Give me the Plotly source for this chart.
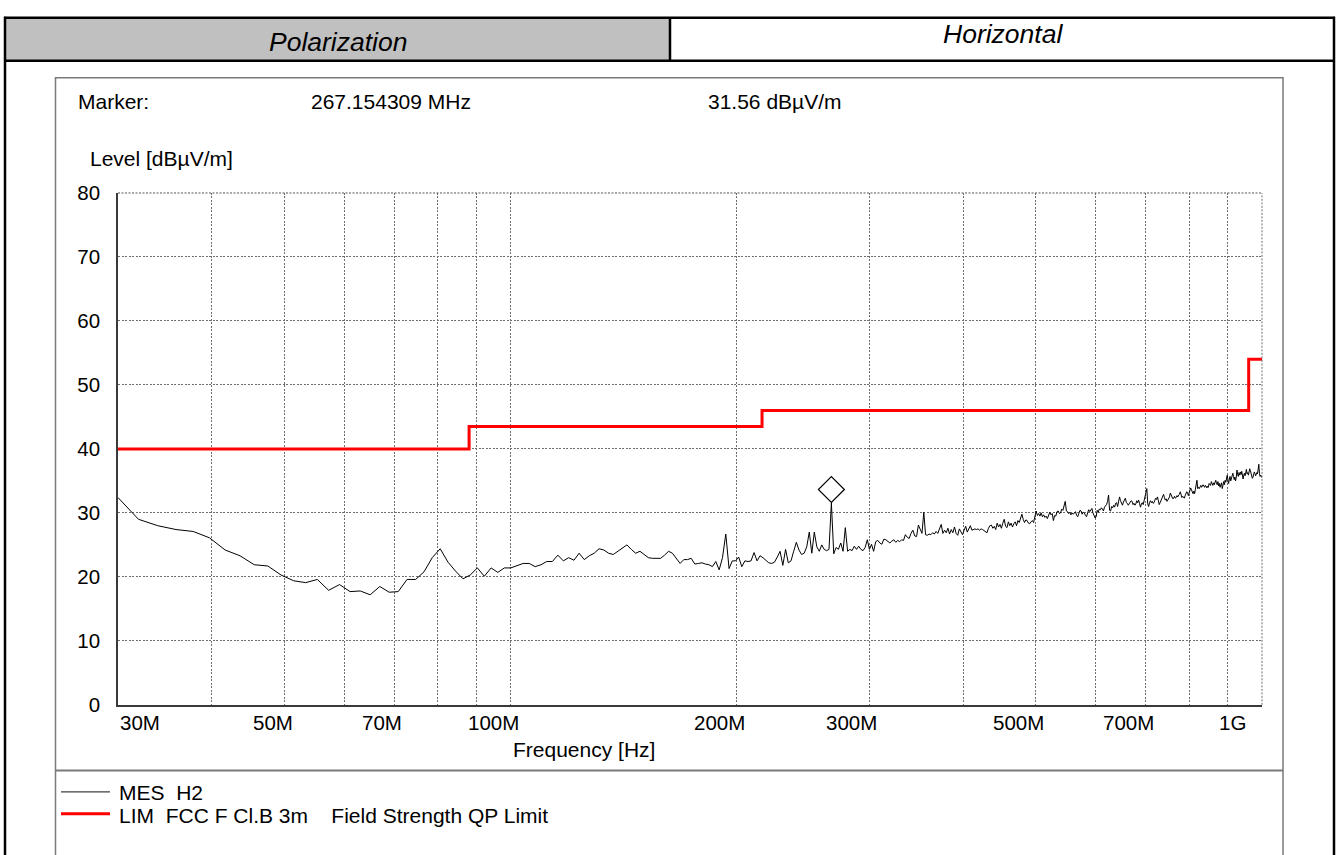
import numpy as np
import plotly.graph_objects as go

W, H = 1341, 855

# ---------------- data ----------------
f_start_mhz = 30.0
f_stop_mhz = 1000.0
n_points = 500

mes_level = [
    32.4, 29.0, 28.0, 27.4, 27.1, 26.1, 24.2, 23.3, 21.9, 21.7,
    20.3, 19.4, 19.1, 19.6, 17.9, 18.8, 17.7, 17.8, 17.2, 18.5,
    17.6, 17.7, 19.6, 19.6, 20.8, 23.0, 24.4, 22.3, 20.9, 19.7,
    20.3, 21.4, 20.1, 21.4, 20.7, 21.4, 21.4, 21.8, 22.1, 22.1,
    21.6, 21.9, 22.4, 22.4, 23.4, 22.5, 23.0, 22.6, 23.7, 22.7,
    23.3, 23.7, 24.4, 24.2, 23.7, 23.5, 24.0, 24.4, 25.0, 24.3,
    23.7, 24.0, 23.5, 23.0, 22.9, 22.9, 22.9, 23.4, 24.0, 23.7,
    22.9, 22.1, 22.7, 22.7, 22.9, 22.0, 22.1, 22.2, 22.0, 21.9,
    21.6, 22.4, 21.1, 23.0, 26.7, 21.3, 22.5, 22.5, 23.1, 21.6,
    22.5, 22.4, 22.5, 23.8, 22.5, 23.3, 23.0, 22.6, 22.2, 22.1,
    22.3, 23.1, 24.0, 21.8, 24.3, 22.2, 22.5, 24.0, 25.4, 24.2,
    23.5, 23.7, 24.7, 27.0, 23.7, 27.0, 24.7, 24.0, 25.0, 24.3,
    24.1, 24.3, 31.56, 23.6, 24.6, 24.3, 25.3, 24.0, 27.7, 24.0,
    24.3, 24.1, 24.8, 24.3, 24.8, 24.3, 24.1, 24.6, 25.8, 24.3,
    25.1, 24.0, 25.5, 25.7, 25.3, 25.1, 25.9, 25.8, 25.5, 25.3,
    25.6, 25.8, 25.4, 25.7, 25.5, 25.8, 25.7, 26.6, 26.2, 26.0,
    26.8, 27.3, 26.4, 26.3, 28.1, 27.5, 26.8, 30.1, 26.6, 26.5,
    26.7, 26.6, 26.9, 26.7, 27.1, 26.8, 27.5, 28.2, 26.8, 27.3,
    26.9, 27.6, 26.7, 27.4, 26.9, 27.8, 26.8, 26.5, 27.5, 27.0,
    26.6, 27.3, 27.9, 27.0, 27.4, 28.0, 27.3, 27.4, 27.5, 27.4,
    27.5, 27.3, 27.5, 27.4, 27.2, 27.0, 26.9, 27.6, 28.0, 28.1,
    27.6, 27.9, 27.4, 28.4, 27.8, 28.2, 27.6, 28.4, 29.0, 27.9,
    27.7, 28.6, 28.0, 28.4, 27.8, 28.3, 28.6, 28.0, 28.8, 28.5,
    29.3, 29.8, 29.0, 28.5, 28.9, 28.8, 28.4, 28.3, 28.6, 28.8,
    28.5, 29.4, 30.3, 29.6, 29.9, 29.5, 30.0, 29.4, 29.7, 29.3,
    29.5, 29.1, 29.8, 30.1, 29.7, 29.9, 28.8, 29.6, 29.5, 30.2,
    30.3, 29.9, 30.0, 30.6, 30.4, 31.0, 31.8, 30.3, 30.2, 29.9,
    30.1, 29.7, 30.0, 29.8, 30.0, 30.2, 29.6, 29.4, 29.9, 30.4,
    30.3, 29.8, 30.1, 30.0, 29.6, 29.4, 30.0, 30.5, 30.2, 30.6,
    30.7, 30.0, 29.5, 29.2, 29.4, 30.4, 30.1, 30.6, 30.5, 30.8,
    30.6, 30.3, 30.9, 31.1, 31.3, 31.8, 32.8, 30.4, 30.3, 31.0,
    30.8, 31.2, 30.9, 31.5, 31.6, 31.0, 31.8, 32.5, 31.9, 31.5,
    31.2, 31.7, 32.1, 32.3, 31.6, 31.5, 31.2, 31.4, 31.6, 31.9,
    31.8, 31.3, 31.5, 31.2, 31.4, 31.9, 31.6, 32.0, 31.5, 30.9,
    31.4, 31.6, 31.3, 32.0, 32.4, 33.0, 33.8, 31.4, 31.0, 31.6,
    31.9, 31.6, 31.8, 31.5, 31.6, 32.0, 32.3, 32.1, 32.5, 31.9,
    31.3, 31.6, 32.0, 32.3, 32.7, 32.9, 32.4, 32.0, 32.2, 31.8,
    32.0, 32.2, 32.5, 33.1, 32.8, 32.4, 32.2, 32.3, 32.6, 32.3,
    32.4, 32.7, 32.5, 32.8, 32.9, 33.3, 32.8, 32.4, 32.6, 32.4,
    32.3, 32.7, 33.0, 33.3, 33.2, 32.7, 33.1, 33.5, 33.9, 33.6,
    33.2, 33.0, 33.4, 33.0, 33.7, 34.4, 35.1, 33.8, 34.0, 33.8,
    34.1, 34.3, 34.0, 34.3, 34.4, 34.2, 34.0, 34.3, 34.0, 33.9,
    34.2, 34.0, 34.6, 34.5, 34.3, 34.9, 34.6, 34.3, 34.7, 34.4,
    34.8, 35.1, 34.6, 34.4, 34.9, 34.2, 34.6, 34.0, 34.4, 34.7,
    33.8, 34.3, 34.9, 34.4, 35.1, 34.8, 35.5, 35.9, 35.1, 34.6,
    35.3, 35.7, 35.0, 35.4, 35.9, 36.2, 35.7, 35.2, 35.6, 35.0,
    35.6, 36.7, 36.0, 35.7, 36.3, 35.9, 36.4, 36.0, 36.5, 35.7,
    35.3, 35.9, 36.2, 35.8, 36.6, 36.8, 36.1, 36.3, 35.9, 36.5,
    36.9, 36.6, 36.1, 35.7, 35.4, 35.6, 36.0, 36.4, 36.2, 35.8,
    36.0, 36.3, 36.1, 37.1, 37.6, 36.2, 35.7, 35.9, 35.6, 35.5,
]

limit_freq = [30, 88, 216, 960, 1000]
limit_level = [40.0, 43.5, 46.0, 54.0, 54.0]

marker_freq = 267.154309
marker_level = 31.56

x_tick_vals = [30, 50, 70, 100, 200, 300, 500, 700, 1000]
x_tick_text = ["30M", "50M", "70M", "100M", "200M", "300M", "500M", "700M", "1G"]
x_grid_vals = [40, 50, 60, 70, 80, 90, 100, 200, 300, 400, 500, 600, 700, 800, 900]
y_tick_vals = [0, 10, 20, 30, 40, 50, 60, 70, 80]

polarization_label = "Polarization"
polarization_value = "Horizontal"
mes_name = "MES\u00a0\u00a0H2"
lim_name = "LIM\u00a0\u00a0FCC F Cl.B 3m\u00a0\u00a0\u00a0\u00a0Field Strength QP Limit"

# ---------------- helpers ----------------
step = (f_stop_mhz - f_start_mhz) / (n_points - 1)
freqs = [f_start_mhz + i * step for i in range(len(mes_level))]

FONT = "Liberation Sans, Arial, sans-serif"
GRID = "#6e6e6e"
GRIDDASH = "2px,1.5px"


def px(x):
    return x / W


def py(y):
    return 1 - y / H


fig = go.Figure()

fig.add_trace(go.Scatter(
    x=limit_freq, y=limit_level, mode="lines",
    line=dict(color="#ff0000", width=3, shape="hv"),
    hoverinfo="skip", showlegend=False))

fig.add_trace(go.Scatter(
    x=freqs, y=mes_level, mode="lines",
    line=dict(color="#000000", width=1),
    showlegend=False))

# marker diamond sitting above the marked peak
fig.add_trace(go.Scatter(
    x=[marker_freq], y=[marker_level + 2.1], mode="markers",
    marker=dict(symbol="diamond-open", size=20, color="#000000",
                line=dict(width=1.2, color="#000000")),
    showlegend=False))

shapes = []
# header grey cell
shapes.append(dict(type="rect", xref="paper", yref="paper",
                   x0=px(5), x1=px(670), y0=py(50), y1=py(6),
                   fillcolor="#c0c0c0", line=dict(width=0), layer="below"))
# outer black table lines
for (x0, y0, x1, y1) in [(4, 6, 1335, 6), (4, 50, 1335, 50), (5, 5, 5, 870),
                         (1334, 5, 1334, 870), (670, 6, 670, 50)]:
    shapes.append(dict(type="line", xref="paper", yref="paper",
                       x0=px(x0), y0=py(y0), x1=px(x1), y1=py(y1),
                       line=dict(color="#000000", width=2.5)))
# inner grey frame
shapes.append(dict(type="rect", xref="paper", yref="paper",
                   x0=px(55.5), x1=px(1283), y0=py(880), y1=py(67.5),
                   line=dict(color="#7a7a7a", width=1.5)))
shapes.append(dict(type="line", xref="paper", yref="paper",
                   x0=px(55.5), x1=px(1283), y0=py(779.5), y1=py(779.5),
                   line=dict(color="#7a7a7a", width=2)))
# top (80) and right (1G) plot borders, dotted like the grid
shapes.append(dict(type="line", xref="x domain", yref="y domain",
                   x0=0, x1=1, y0=1, y1=1,
                   line=dict(color="#555555", width=1, dash=GRIDDASH)))
shapes.append(dict(type="line", xref="x domain", yref="y domain",
                   x0=1, x1=1, y0=0, y1=1,
                   line=dict(color=GRID, width=1, dash=GRIDDASH)))
# legend sample lines
shapes.append(dict(type="line", xref="paper", yref="paper",
                   x0=px(61), x1=px(110), y0=py(801.5), y1=py(801.5),
                   line=dict(color="#404040", width=1.2)))
shapes.append(dict(type="line", xref="paper", yref="paper",
                   x0=px(61), x1=px(110), y0=py(824), y1=py(824),
                   line=dict(color="#ff0000", width=3)))

ann = []


def text(x, y, s, size=21, xanchor="left", italic=False):
    ann.append(dict(xref="paper", yref="paper", x=px(x), y=py(y),
                    text=("<i>%s</i>" % s) if italic else s,
                    showarrow=False, xanchor=xanchor, yanchor="middle",
                    font=dict(family=FONT, size=size, color="#000000")))


text(338, 30.5, polarization_label, size=26.5, xanchor="center", italic=True)
text(1003, 23, polarization_value, size=26.5, xanchor="center", italic=True)
text(76, 92, "Marker:")
text(309, 92, "%.6f MHz" % marker_freq)
text(706, 92, "%.2f dBµV/m" % marker_level)
text(88, 151, "Level [dBµV/m]")
text(584, 758, "Frequency [Hz]", xanchor="center")
text(117, 802.5, mes_name)
text(117, 825.5, lim_name)

# x tick labels (placed like the original: just left of each grid line)
for i, (v, t) in enumerate(zip(x_tick_vals, x_tick_text)):
    if i == 0:
        xa, sh = "left", 0
    elif i == len(x_tick_vals) - 1:
        xa, sh = "right", -14
    else:
        xa, sh = "right", 10
    ann.append(dict(xref="x", yref="paper", x=np.log10(v), y=py(730.5),
                    text=t, showarrow=False, xanchor=xa, yanchor="middle",
                    xshift=sh,
                    font=dict(family=FONT, size=20.5, color="#000000")))

fig.update_layout(
    width=W, height=H, autosize=False,
    margin=dict(l=0, r=0, t=0, b=0),
    paper_bgcolor="#ffffff", plot_bgcolor="#ffffff",
    shapes=shapes, annotations=ann, showlegend=False,
    xaxis=dict(type="log", domain=[px(118), px(1262)],
               range=[np.log10(f_start_mhz), np.log10(f_stop_mhz)],
               tickvals=x_grid_vals, showticklabels=False, ticks="",
               showgrid=True, gridcolor=GRID, gridwidth=1,
               griddash=GRIDDASH,
               showline=True, linecolor="#3a3a3a", linewidth=1.5,
               zeroline=False, fixedrange=True),
    yaxis=dict(domain=[py(712), py(186)], range=[0, 80],
               tickvals=y_tick_vals, ticks="",
               tickfont=dict(family=FONT, size=20.5, color="#000000"),
               ticklabelstandoff=12,
               showgrid=True, gridcolor=GRID, gridwidth=1,
               griddash=GRIDDASH,
               showline=True, linecolor="#3a3a3a", linewidth=1.5,
               zeroline=False, fixedrange=True),
)

post = ("var d=document.getElementById('{plot_id}');"
        "d.style.position='fixed';d.style.top='0px';d.style.left='0px';"
        "document.body.style.margin='0px';document.body.style.overflow='hidden';"
        "document.documentElement.style.overflow='hidden';")

fig.write_html("out.html", post_script=post,
               config={"displayModeBar": False})
